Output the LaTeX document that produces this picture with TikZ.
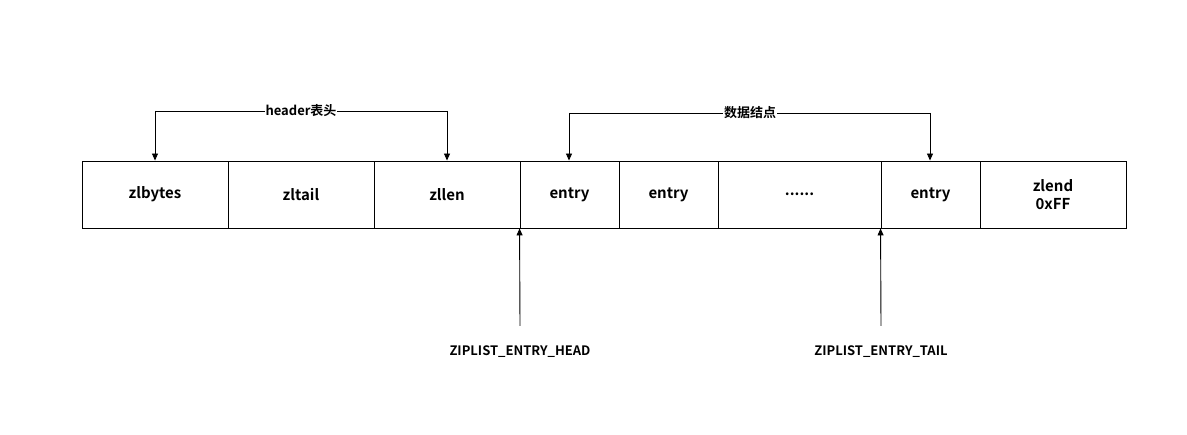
\documentclass[tikz,border=0pt]{standalone}
\usepackage{fontspec}
\setmainfont{Noto Sans CJK SC}[BoldFont={* Bold}]
\usetikzlibrary{arrows.meta}
\begin{document}
\begin{tikzpicture}[x=1pt,y=-1pt,
  cell/.style={draw,line width=0.9pt,minimum height=67pt,inner sep=0pt,font=\bfseries\fontsize{15}{18}\selectfont,align=center},
  lbl/.style={fill=white,inner sep=1pt,font=\bfseries\fontsize{13}{15}\selectfont},
  con/.style={line width=0.9pt,-{Triangle[length=7pt,width=6pt]}}]
\useasboundingbox (0,0) rectangle (1187,435);
\foreach \n/\a/\b/\t in {c1/82/228/zlbytes,c2/228/374/zltail,c3/374/520/zllen,c4/520/619/entry,c5/619/718/entry,c6/718/881/{{......}},c7/881/980/entry,c8/980/1126/{zlend\\0xFF}}
  \node[cell,minimum width=\b-\a] (\n) at ({(\a+\b)/2},194.5) {\t};
\coordinate (h1) at (155,111); \coordinate (h2) at (447,111);
\coordinate (d1) at (569,113); \coordinate (d2) at (930,113);
\draw[con] (h1) -- (h1 |- c1.north);
\draw[con] (h2) -- (h2 |- c3.north);
\draw[line width=0.9pt] (h1) -- (h2);
\node[lbl] (hl) at (301,111) {header表头};
\draw[con] (d1) -- (d1 |- c4.north);
\draw[con] (d2) -- (d2 |- c7.north);
\draw[line width=0.9pt] (d1) -- (d2);
\node[lbl] (dl) at (750,113) {数据结点};
\coordinate (p1) at (520,326); \coordinate (p2) at (881,326);
\draw[con] (p1) -- (c4.south west);
\draw[con] (p2) -- (c7.south west);
\node[lbl] (t1) at (520,352) {ZIPLIST\_ENTRY\_HEAD};
\node[lbl] (t2) at (881,352) {ZIPLIST\_ENTRY\_TAIL};
\end{tikzpicture}
\end{document}
